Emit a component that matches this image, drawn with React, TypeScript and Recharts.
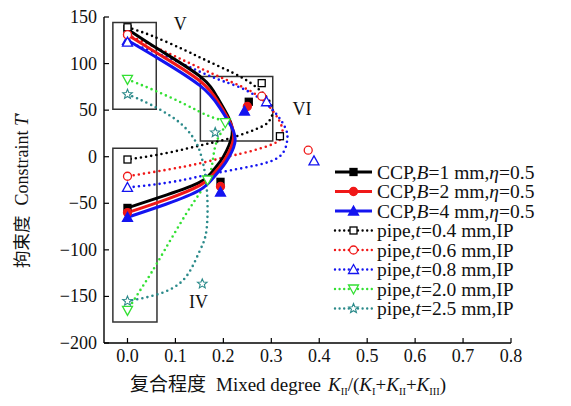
import React from 'react';
import { ScatterChart, Scatter, XAxis, YAxis, ReferenceArea, ReferenceDot, Legend } from 'recharts';

const FONT = '"Liberation Serif", "Times New Roman", serif';
const CJK = '"Noto Sans CJK SC", sans-serif';

const xTicks = [0, 0.1, 0.2, 0.3, 0.4, 0.5, 0.6, 0.7, 0.8];
const yTicks = [-200, -150, -100, -50, 0, 50, 100, 150];

// curves (x = mixed degree, y = constraint T')
const ccp1Curve = [
  { x: 0, y: 137 }, { x: 0.069, y: 114 }, { x: 0.152, y: 86 }, { x: 0.187, y: 64 }, { x: 0.211, y: 42 },
  { x: 0.218, y: 23 }, { x: 0.2, y: 0 }, { x: 0.18, y: -14 }, { x: 0.152, y: -27 }, { x: 0.082, y: -41 }, { x: 0, y: -55 },
];
const ccp2Curve = [
  { x: 0, y: 131 }, { x: 0.069, y: 109 }, { x: 0.152, y: 81 }, { x: 0.19, y: 58 }, { x: 0.214, y: 37 },
  { x: 0.221, y: 19 }, { x: 0.203, y: -3 }, { x: 0.18, y: -18 }, { x: 0.15, y: -31 }, { x: 0.08, y: -46 }, { x: 0, y: -60 },
];
const ccp4Curve = [
  { x: 0, y: 125 }, { x: 0.069, y: 104 }, { x: 0.152, y: 76 }, { x: 0.192, y: 53 }, { x: 0.217, y: 32 },
  { x: 0.224, y: 15 }, { x: 0.205, y: -6 }, { x: 0.18, y: -22 }, { x: 0.15, y: -36 }, { x: 0.08, y: -51 }, { x: 0, y: -65 },
];
const pipe04Curve = [
  { x: 0, y: 139 }, { x: 0.05, y: 130 }, { x: 0.117, y: 115 }, { x: 0.17, y: 102 }, { x: 0.22, y: 90 },
  { x: 0.26, y: 78 }, { x: 0.29, y: 64 }, { x: 0.303, y: 50 }, { x: 0.295, y: 38 }, { x: 0.27, y: 30 },
  { x: 0.215, y: 20 }, { x: 0.159, y: 13 }, { x: 0.082, y: 4 }, { x: 0, y: -3 },
];
const pipe06Curve = [
  { x: 0, y: 131 }, { x: 0.082, y: 112 }, { x: 0.152, y: 95 }, { x: 0.222, y: 79 }, { x: 0.27, y: 66 },
  { x: 0.305, y: 48 }, { x: 0.322, y: 32 }, { x: 0.322, y: 22 }, { x: 0.305, y: 14 }, { x: 0.25, y: 5 },
  { x: 0.2, y: -1 }, { x: 0.152, y: -7 }, { x: 0.082, y: -14 }, { x: 0, y: -21 },
];
const pipe08Curve = [
  { x: 0, y: 123 }, { x: 0.082, y: 107 }, { x: 0.152, y: 91 }, { x: 0.2, y: 81 }, { x: 0.256, y: 69 },
  { x: 0.305, y: 49 }, { x: 0.33, y: 30 }, { x: 0.333, y: 17 }, { x: 0.319, y: 1 }, { x: 0.27, y: -9 },
  { x: 0.2, y: -16 }, { x: 0.152, y: -21 }, { x: 0.082, y: -28 }, { x: 0, y: -33 },
];
const pipe20Curve = [
  { x: 0, y: 83 }, { x: 0.048, y: 73 }, { x: 0.117, y: 57 }, { x: 0.173, y: 43 }, { x: 0.204, y: 36 },
  { x: 0.19, y: 21 }, { x: 0.179, y: 0 }, { x: 0.167, y: -25 }, { x: 0.124, y: -60 }, { x: 0.062, y: -114 },
  { x: 0.027, y: -143 }, { x: 0, y: -165 },
];
const pipe25Curve = [
  { x: 0, y: 67 }, { x: 0.048, y: 56 }, { x: 0.103, y: 39 }, { x: 0.135, y: 22 }, { x: 0.152, y: 4 },
  { x: 0.165, y: -32 }, { x: 0.165, y: -78 }, { x: 0.149, y: -103 }, { x: 0.117, y: -132 },
  { x: 0.061, y: -148 }, { x: 0, y: -155 },
];

// symbols
const ccp1Marks = [{ x: 0, y: 137 }, { x: 0.253, y: 59 }, { x: 0.194, y: -27 }, { x: 0, y: -55 }];
const ccp2Marks = [{ x: 0, y: 131 }, { x: 0.25, y: 54 }, { x: 0.194, y: -32 }, { x: 0, y: -60 }];
const ccp4Marks = [{ x: 0, y: 125 }, { x: 0.244, y: 49 }, { x: 0.194, y: -38 }, { x: 0, y: -65 }];
const pipe04Marks = [{ x: 0, y: 139 }, { x: 0.28, y: 79 }, { x: 0.318, y: 22 }, { x: 0, y: -3 }];
const pipe06Marks = [{ x: 0, y: 131 }, { x: 0.28, y: 65 }, { x: 0.377, y: 7 }, { x: 0, y: -21 }];
const pipe08Marks = [{ x: 0, y: 123 }, { x: 0.29, y: 59 }, { x: 0.389, y: -4.5 }, { x: 0, y: -33 }];
const pipe20Marks = [{ x: 0, y: 83 }, { x: 0.204, y: 36.5 }, { x: 0.167, y: -25 }, { x: 0, y: -165 }];
const pipe25Marks = [{ x: 0, y: 67 }, { x: 0.183, y: 26 }, { x: 0.156, y: -136.5 }, { x: 0, y: -155 }];

const boxes = [
  { x1: -0.0305, x2: 0.06, y1: 51, y2: 144 },
  { x1: 0.152, x2: 0.303, y1: 17, y2: 86 },
  { x1: -0.0305, x2: 0.0615, y1: -177.5, y2: 9 },
];
const zoneLabels = [
  { x: 0.11, y: 143, text: 'V' },
  { x: 0.364, y: 51, text: 'VI' },
  { x: 0.148, y: -156, text: 'IV' },
];

type Kind = 'square' | 'circle' | 'triangle' | 'triangleDown' | 'star';

const series = [
  { key: 'ccp1', kind: 'CCP', v: '1', color: '#000000', solid: true, mark: 'square' as Kind, filled: true, curve: ccp1Curve, marks: ccp1Marks },
  { key: 'ccp2', kind: 'CCP', v: '2', color: '#f01818', solid: true, mark: 'circle' as Kind, filled: true, curve: ccp2Curve, marks: ccp2Marks },
  { key: 'ccp4', kind: 'CCP', v: '4', color: '#1414f0', solid: true, mark: 'triangle' as Kind, filled: true, curve: ccp4Curve, marks: ccp4Marks },
  { key: 'p04', kind: 'pipe', v: '0.4', color: '#000000', solid: false, mark: 'square' as Kind, filled: false, curve: pipe04Curve, marks: pipe04Marks },
  { key: 'p06', kind: 'pipe', v: '0.6', color: '#f01818', solid: false, mark: 'circle' as Kind, filled: false, curve: pipe06Curve, marks: pipe06Marks },
  { key: 'p08', kind: 'pipe', v: '0.8', color: '#1414f0', solid: false, mark: 'triangle' as Kind, filled: false, curve: pipe08Curve, marks: pipe08Marks },
  { key: 'p20', kind: 'pipe', v: '2.0', color: '#33e033', solid: false, mark: 'triangleDown' as Kind, filled: false, curve: pipe20Curve, marks: pipe20Marks },
  { key: 'p25', kind: 'pipe', v: '2.5', color: '#2b8a8a', solid: false, mark: 'star' as Kind, filled: false, curve: pipe25Curve, marks: pipe25Marks },
];

function Marker({ cx, cy, kind, color, filled }: { cx: number; cy: number; kind: Kind; color: string; filled: boolean }) {
  const fill = filled ? color : '#fff';
  const sw = 1.3;
  if (kind === 'square') return <rect x={cx - 3.5} y={cy - 3.5} width={7} height={7} fill={fill} stroke={color} strokeWidth={sw} />;
  if (kind === 'circle') return <circle cx={cx} cy={cy} r={4} fill={fill} stroke={color} strokeWidth={sw} />;
  if (kind === 'triangle')
    return <polygon points={`${cx},${cy - 5} ${cx + 5},${cy + 4} ${cx - 5},${cy + 4}`} fill={fill} stroke={color} strokeWidth={sw} />;
  if (kind === 'triangleDown')
    return <polygon points={`${cx},${cy + 5} ${cx + 5},${cy - 4} ${cx - 5},${cy - 4}`} fill={fill} stroke={color} strokeWidth={sw} />;
  const pts: string[] = [];
  for (let i = 0; i < 10; i++) {
    const r = i % 2 === 0 ? 5 : 2.2;
    const a = -Math.PI / 2 + (i * Math.PI) / 5;
    pts.push(`${cx + r * Math.cos(a)},${cy + r * Math.sin(a)}`);
  }
  return <polygon points={pts.join(' ')} fill={fill} stroke={color} strokeWidth={1.1} />;
}

const fmtX = (v: number) => v.toFixed(1);
const fmtY = (v: number) => (v < 0 ? `\u2212${Math.abs(v)}` : `${v}`);

function XTick({ x, y, payload }: any) {
  return (
    <g>
      <line x1={x} x2={x} y1={y} y2={y - 5} stroke="#000" strokeWidth={1.2} />
      <text x={x} y={y + 19} textAnchor="middle" fontSize={18} fontFamily={FONT} fill="#111">{fmtX(payload.value)}</text>
    </g>
  );
}

function YTick({ x, y, payload }: any) {
  return (
    <g>
      <line x1={x} x2={x + 5} y1={y} y2={y} stroke="#000" strokeWidth={1.2} />
      <text x={x - 7} y={y + 6} textAnchor="end" fontSize={18} fontFamily={FONT} fill="#111">{fmtY(payload.value)}</text>
    </g>
  );
}

function legendLabel(s: typeof series[number]) {
  if (s.kind === 'CCP')
    return (
      <>
        CCP,<tspan fontStyle="italic">B</tspan>={s.v} mm,<tspan fontStyle="italic">η</tspan>=0.5
      </>
    );
  return (
    <>
      pipe,<tspan fontStyle="italic">t</tspan>={s.v} mm,IP
    </>
  );
}

function LegendBox() {
  return (
    <svg width={236} height={160} style={{ display: 'block', overflow: 'visible' }}>
      {series.map((s, i) => {
        const y = 8 + i * 19.5;
        return (
          <g key={s.key}>
            <line
              x1={2} x2={39} y1={y} y2={y} stroke={s.color}
              strokeWidth={s.solid ? 3 : 2.4}
              strokeDasharray={s.solid ? undefined : '0 4.6'}
              strokeLinecap={s.solid ? 'butt' : 'round'}
            />
            <Marker cx={20.5} cy={y} kind={s.mark} color={s.color} filled={s.filled} />
            <text x={44} y={y + 6.5} fontSize={19.5} fontFamily={FONT} fill="#111">{legendLabel(s)}</text>
          </g>
        );
      })}
    </svg>
  );
}

export default function App() {
  return (
    <div style={{ position: 'absolute', left: 0, top: 0, width: 571, height: 406, background: '#fff' }}>
      <ScatterChart width={571} height={406} margin={{ top: 17, right: 60, bottom: 33, left: 44 }}>
        <XAxis
          type="number"
          dataKey="x"
          domain={[-0.049, 0.8]}
          ticks={xTicks}
          tick={<XTick />}
          tickSize={0}
          tickMargin={0}
          tickLine={false}
          height={30}
          axisLine={{ stroke: '#000', strokeWidth: 1.4 }}
          allowDataOverflow
          label={{
            content: () => (
              <text x={130} y={391} fontSize={19} fontFamily={FONT} fill="#111">
                <tspan fontFamily={CJK} fontSize={19}>复合程度</tspan>
                <tspan dx={10} fontFamily={FONT}>Mixed degree</tspan>
                <tspan dx={7} fontFamily={FONT} fontStyle="italic">K</tspan>
                <tspan fontFamily={FONT} fontSize={10.5} dy={4}>II</tspan>
                <tspan fontFamily={FONT} dy={-4}>/(</tspan>
                <tspan fontFamily={FONT} fontStyle="italic">K</tspan>
                <tspan fontFamily={FONT} fontSize={10.5} dy={4}>I</tspan>
                <tspan fontFamily={FONT} dy={-4}>+</tspan>
                <tspan fontFamily={FONT} fontStyle="italic">K</tspan>
                <tspan fontFamily={FONT} fontSize={10.5} dy={4}>II</tspan>
                <tspan fontFamily={FONT} dy={-4}>+</tspan>
                <tspan fontFamily={FONT} fontStyle="italic">K</tspan>
                <tspan fontFamily={FONT} fontSize={10.5} dy={4}>III</tspan>
                <tspan fontFamily={FONT} dy={-4}>)</tspan>
              </text>
            ),
          }}
        />
        <YAxis
          type="number"
          dataKey="y"
          domain={[-200, 150]}
          ticks={yTicks}
          tick={<YTick />}
          tickSize={0}
          tickMargin={0}
          tickLine={false}
          width={60}
          axisLine={{ stroke: '#000', strokeWidth: 1.4 }}
          allowDataOverflow
          label={{
            content: () => (
              <text x={0} y={0} transform="translate(28,268) rotate(-90)" fontSize={18} fontFamily={FONT} fill="#111">
                <tspan fontFamily={CJK} fontSize={17.5}>拘束度</tspan>
                <tspan dx={10} fontFamily={FONT}>Constraint </tspan>
                <tspan fontFamily={FONT} fontStyle="italic">T</tspan>
                <tspan fontFamily={FONT}>′</tspan>
              </text>
            ),
          }}
        />
        {boxes.map((b, i) => (
          <ReferenceArea key={`box${i}`} x1={b.x1} x2={b.x2} y1={b.y1} y2={b.y2} fill="none" stroke="#333" strokeWidth={1.5} ifOverflow="visible" />
        ))}
        {series.filter(s => !s.solid).map(s => (
          <Scatter
            key={`${s.key}-line`}
            data={s.curve}
            fill={s.color}
            line={{ stroke: s.color, strokeWidth: 2.6, strokeDasharray: '0 5.2', strokeLinecap: 'round' }}
            lineJointType="natural"
            shape={() => <g />}
            legendType="none"
            isAnimationActive={false}
          />
        ))}
        {series.filter(s => s.solid).map(s => (
          <Scatter
            key={`${s.key}-line`}
            data={s.curve}
            fill={s.color}
            line={{ stroke: s.color, strokeWidth: 3 }}
            lineJointType="natural"
            shape={() => <g />}
            legendType="none"
            isAnimationActive={false}
          />
        ))}
        {series.map(s => (
          <Scatter
            key={`${s.key}-marks`}
            data={s.marks}
            fill={s.color}
            shape={(p: any) => <Marker cx={p.cx} cy={p.cy} kind={s.mark} color={s.color} filled={s.filled} />}
            legendType="none"
            isAnimationActive={false}
          />
        ))}
        {zoneLabels.map(z => (
          <ReferenceDot
            key={z.text}
            x={z.x}
            y={z.y}
            r={0}
            fill="none"
            stroke="none"
            ifOverflow="visible"
            label={{
              content: ({ viewBox }: any) => (
                <text x={viewBox.x + (viewBox.width || 0) / 2} y={viewBox.y + (viewBox.height || 0) / 2 + 6} textAnchor="middle" fontSize={18} fontFamily={FONT} fill="#111">
                  {z.text}
                </text>
              ),
            }}
          />
        ))}
        <Legend
          layout="vertical"
          align="center"
          verticalAlign="middle"
          wrapperStyle={{ position: 'absolute', left: 333, top: 164, width: 236, height: 160 }}
          content={() => <LegendBox />}
        />
      </ScatterChart>
    </div>
  );
}
